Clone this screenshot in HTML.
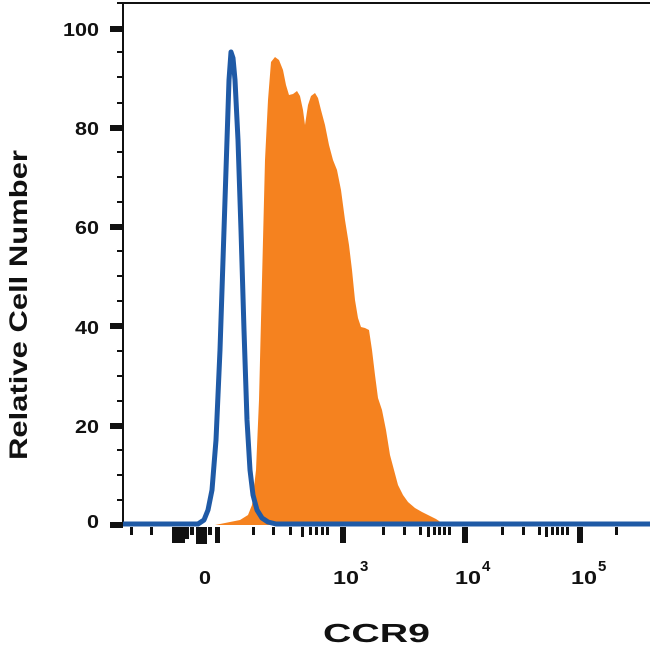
<!DOCTYPE html>
<html><head><style>
html,body{margin:0;padding:0;background:#fff;}
svg{display:block;}
text{font-family:"Liberation Sans",sans-serif;font-weight:bold;fill:#111;}
</style></head><body>
<svg width="650" height="652" viewBox="0 0 650 652">
<line x1="123" y1="3" x2="650" y2="3" stroke="#111" stroke-width="2"/>
<line x1="123" y1="3" x2="123" y2="526" stroke="#111" stroke-width="2"/>
<g fill="#111">
<rect x="110" y="26" width="13" height="6"/>
<rect x="110" y="125" width="13" height="6"/>
<rect x="110" y="224" width="13" height="6"/>
<rect x="110" y="323" width="13" height="6"/>
<rect x="110" y="423" width="13" height="6"/>
<rect x="110" y="522" width="13" height="6"/>
</g>
<g stroke="#111" stroke-width="2">
<line x1="117" y1="52" x2="123" y2="52"/><line x1="117" y1="77" x2="123" y2="77"/><line x1="117" y1="103" x2="123" y2="103"/>
<line x1="117" y1="152" x2="123" y2="152"/><line x1="117" y1="177" x2="123" y2="177"/><line x1="117" y1="202" x2="123" y2="202"/>
<line x1="117" y1="251" x2="123" y2="251"/><line x1="117" y1="276" x2="123" y2="276"/><line x1="117" y1="301" x2="123" y2="301"/>
<line x1="117" y1="351" x2="123" y2="351"/><line x1="117" y1="376" x2="123" y2="376"/><line x1="117" y1="401" x2="123" y2="401"/>
<line x1="117" y1="450" x2="123" y2="450"/><line x1="117" y1="475" x2="123" y2="475"/><line x1="117" y1="500" x2="123" y2="500"/>
<line x1="117" y1="3" x2="123" y2="3"/>
</g>
<g fill="#111">
<rect x="130" y="527" width="3" height="8"/><rect x="150" y="527" width="3" height="8"/>
<rect x="172" y="527" width="13" height="16"/><rect x="185" y="527" width="4" height="12"/><rect x="190" y="527" width="4" height="8"/>
<rect x="196" y="527" width="11" height="17"/><rect x="208" y="527" width="4" height="8"/><rect x="215" y="527" width="5" height="16"/>
<rect x="252" y="527" width="3" height="8"/><rect x="272" y="527" width="3" height="8"/><rect x="289" y="527" width="3" height="8"/>
<rect x="301" y="527" width="3" height="10"/><rect x="309" y="527" width="3" height="8"/><rect x="315" y="527" width="3" height="8"/><rect x="321" y="527" width="3" height="8"/><rect x="326" y="527" width="3" height="8"/>
<rect x="340" y="527" width="6" height="16"/>
<rect x="382" y="527" width="3" height="8"/><rect x="403" y="527" width="3" height="8"/><rect x="419" y="527" width="3" height="8"/>
<rect x="427" y="527" width="3" height="10"/><rect x="433" y="527" width="3" height="8"/><rect x="438" y="527" width="3" height="8"/><rect x="443" y="527" width="3" height="8"/><rect x="448" y="527" width="3" height="8"/>
<rect x="462" y="527" width="6" height="16"/>
<rect x="501" y="527" width="3" height="8"/><rect x="522" y="527" width="3" height="8"/><rect x="538" y="527" width="3" height="8"/>
<rect x="545" y="527" width="3" height="10"/><rect x="551" y="527" width="3" height="8"/><rect x="556" y="527" width="3" height="8"/><rect x="561" y="527" width="3" height="8"/><rect x="566" y="527" width="3" height="8"/>
<rect x="577" y="527" width="6" height="16"/><rect x="615" y="527" width="3" height="8"/>
</g>
<path fill="#f5821f" d="M215,525 L230,522 L240,520 L248,515 L252,505 L256,470 L259,400 L262,280 L265,160 L268,100 L271,62 L275,57 L279,60 L283,70 L286,85 L289,95 L293,94 L297,91 L300,96 L303,110 L305,125 L308,105 L311,96 L315,93 L318,98 L321,110 L325,125 L329,145 L333,160 L337,170 L341,190 L345,220 L349,245 L352,270 L355,300 L358,318 L361,327 L365,328 L369,330 L372,350 L375,375 L378,398 L382,410 L386,430 L390,455 L394,470 L398,485 L403,495 L408,502 L415,508 L422,512 L430,516 L436,519 L442,523 L445,525 Z"/>
<path fill="none" stroke="#1f5aa6" stroke-width="5" stroke-linejoin="round" d="M123,524 L198,524 L204,520 L208,510 L212,490 L216,440 L220,350 L224,230 L227,140 L229,80 L231,52 L233,58 L235,80 L238,140 L241,230 L244,330 L247,420 L250,470 L253,495 L257,510 L262,518 L268,522 L276,524 L650,524"/>
<text x="99" y="36" font-size="18" text-anchor="end" textLength="36" lengthAdjust="spacingAndGlyphs">100</text>
<text x="99" y="135" font-size="18" text-anchor="end" textLength="24" lengthAdjust="spacingAndGlyphs">80</text>
<text x="99" y="234" font-size="18" text-anchor="end" textLength="24" lengthAdjust="spacingAndGlyphs">60</text>
<text x="99" y="334" font-size="18" text-anchor="end" textLength="24" lengthAdjust="spacingAndGlyphs">40</text>
<text x="99" y="433" font-size="18" text-anchor="end" textLength="24" lengthAdjust="spacingAndGlyphs">20</text>
<text x="99" y="528" font-size="18" text-anchor="end" textLength="12" lengthAdjust="spacingAndGlyphs">0</text>
<text x="199" y="584" font-size="18" textLength="12" lengthAdjust="spacingAndGlyphs">0</text>
<text x="333" y="584" font-size="18" textLength="26" lengthAdjust="spacingAndGlyphs">10</text><text x="360" y="571" font-size="15">3</text>
<text x="455" y="584" font-size="18" textLength="26" lengthAdjust="spacingAndGlyphs">10</text><text x="482" y="571" font-size="15">4</text>
<text x="571" y="584" font-size="18" textLength="26" lengthAdjust="spacingAndGlyphs">10</text><text x="598" y="571" font-size="15">5</text>
<text x="323" y="642" font-size="26" textLength="107" lengthAdjust="spacingAndGlyphs">CCR9</text>
<text transform="translate(27,460) rotate(-90)" font-size="25" textLength="310" lengthAdjust="spacingAndGlyphs">Relative Cell Number</text>
</svg>
</body></html>
